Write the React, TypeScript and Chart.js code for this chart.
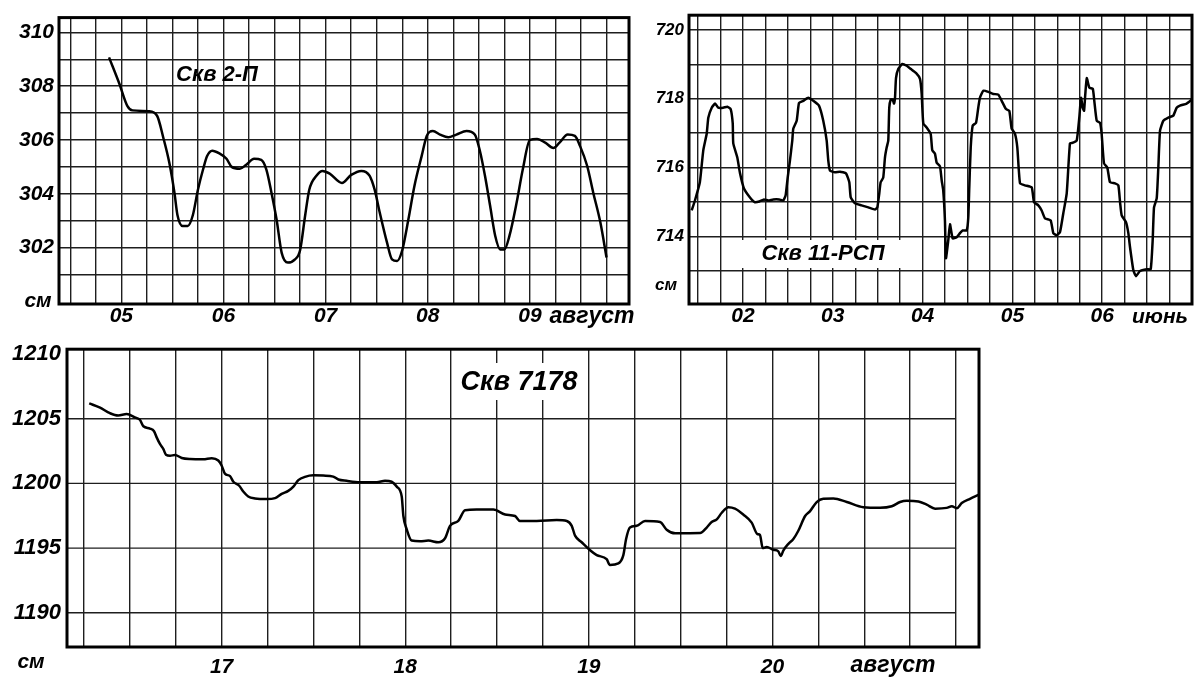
import React, { useEffect, useRef } from 'react';
import { Chart, registerables } from 'chart.js';

Chart.register(...registerables);

const FONT = '"Liberation Sans", Arial, Helvetica, sans-serif';

// ---------- Panel 1: Скв 2-П (август) ----------
const p1Days = [4.88, 4.98, 5.06, 5.11, 5.27, 5.35, 5.41, 5.47, 5.52, 5.55, 5.6, 5.65, 5.7, 5.75, 5.8, 5.84, 5.89, 5.96, 6.03, 6.08, 6.16, 6.22, 6.3, 6.37, 6.42, 6.47, 6.52, 6.57, 6.63, 6.7, 6.75, 6.8, 6.84, 6.91, 6.97, 7.04, 7.16, 7.25, 7.35, 7.43, 7.48, 7.53, 7.6, 7.65, 7.7, 7.75, 7.81, 7.87, 7.94, 7.99, 8.05, 8.12, 8.2, 8.28, 8.38, 8.46, 8.51, 8.56, 8.61, 8.66, 8.71, 8.75, 8.8, 8.87, 8.93, 9.0, 9.07, 9.15, 9.23, 9.29, 9.37, 9.44, 9.49, 9.56, 9.62, 9.69, 9.75];
const p1Level = [309.07, 308.1, 307.26, 307.1, 307.07, 306.9, 306.1, 305.15, 304.04, 303.2, 302.8, 302.8, 303.2, 304.15, 304.9, 305.4, 305.6, 305.5, 305.3, 305.0, 304.93, 305.07, 305.3, 305.26, 304.9, 304.04, 303.04, 301.8, 301.44, 301.56, 301.9, 303.2, 304.15, 304.67, 304.85, 304.75, 304.4, 304.7, 304.85, 304.67, 304.15, 303.3, 302.2, 301.56, 301.5, 301.9, 303.04, 304.3, 305.4, 306.15, 306.33, 306.2, 306.1, 306.2, 306.33, 306.2, 305.6, 304.67, 303.56, 302.44, 301.93, 301.93, 302.44, 303.67, 304.9, 306.0, 306.04, 305.9, 305.7, 305.9, 306.2, 306.15, 305.78, 305.04, 304.04, 302.93, 301.63];
const p1XGrid = [4.5, 4.75, 5, 5.25, 5.5, 5.75, 6, 6.25, 6.5, 6.75, 7, 7.25, 7.5, 7.75, 8, 8.25, 8.5, 8.75, 9, 9.25, 9.5, 9.75];
const p1DayTicks = [5, 6, 7, 8, 9];
const p1DayLabels = ['05', '06', '07', '08', '09'];
const p1YGrid = [301, 302, 303, 304, 305, 306, 307, 308, 309, 310];
const p1YLabelled = [302, 304, 306, 308, 310];

// ---------- Panel 2: Скв 11-РСП (июнь) ----------
const p2Days = [1.429, 1.465, 1.52, 1.558, 1.596, 1.614, 1.652, 1.69, 1.725, 1.78, 1.826, 1.863, 1.886, 1.892, 1.937, 1.967, 2.011, 2.078, 2.134, 2.182, 2.234, 2.282, 2.337, 2.404, 2.449, 2.475, 2.498, 2.523, 2.549, 2.56, 2.598, 2.624, 2.671, 2.727, 2.783, 2.846, 2.894, 2.932, 2.95, 2.969, 3.024, 3.08, 3.147, 3.184, 3.2, 3.247, 3.32, 3.396, 3.47, 3.496, 3.518, 3.533, 3.562, 3.581, 3.6, 3.618, 3.629, 3.645, 3.667, 3.682, 3.693, 3.704, 3.73, 3.774, 3.823, 3.867, 3.926, 3.971, 3.99, 4.008, 4.046, 4.09, 4.108, 4.138, 4.157, 4.194, 4.213, 4.23, 4.249, 4.26, 4.286, 4.305, 4.335, 4.38, 4.416, 4.447, 4.491, 4.509, 4.52, 4.536, 4.558, 4.595, 4.62, 4.639, 4.676, 4.732, 4.787, 4.843, 4.881, 4.929, 4.966, 4.992, 5.029, 5.055, 5.085, 5.14, 5.215, 5.241, 5.289, 5.326, 5.363, 5.426, 5.456, 5.493, 5.53, 5.567, 5.605, 5.641, 5.671, 5.716, 5.745, 5.764, 5.783, 5.798, 5.812, 5.828, 5.857, 5.895, 5.912, 5.939, 5.976, 5.994, 6.02, 6.057, 6.087, 6.143, 6.18, 6.2, 6.217, 6.265, 6.291, 6.31, 6.347, 6.376, 6.421, 6.496, 6.54, 6.562, 6.577, 6.607, 6.625, 6.644, 6.681, 6.736, 6.792, 6.829, 6.866, 6.941, 6.997];
const p2Level = [714.75, 715.04, 715.57, 716.5, 716.98, 717.45, 717.74, 717.86, 717.74, 717.74, 717.77, 717.7, 717.28, 716.7, 716.29, 715.83, 715.39, 715.13, 714.99, 715.01, 715.07, 715.04, 715.07, 715.07, 715.04, 715.19, 715.71, 716.2, 716.78, 717.13, 717.36, 717.88, 717.94, 718.03, 717.94, 717.8, 717.36, 716.78, 716.2, 715.91, 715.86, 715.88, 715.83, 715.57, 715.13, 714.96, 714.9, 714.84, 714.78, 714.84, 715.25, 715.57, 715.71, 716.29, 716.58, 716.78, 717.74, 717.97, 717.97, 717.86, 718.03, 718.6, 718.87, 719.01, 718.96, 718.87, 718.75, 718.58, 718.14, 717.28, 717.16, 716.98, 716.5, 716.4, 716.14, 716.03, 715.62, 715.33, 714.46, 713.36, 713.88, 714.35, 713.94, 713.97, 714.09, 714.17, 714.17, 714.55, 715.42, 716.58, 717.22, 717.3, 717.74, 718.03, 718.23, 718.2, 718.14, 718.12, 717.94, 717.7, 717.65, 717.13, 716.98, 716.58, 715.54, 715.48, 715.42, 714.99, 714.9, 714.75, 714.52, 714.46, 714.09, 714.03, 714.12, 714.67, 715.25, 716.7, 716.72, 716.78, 717.45, 718.03, 717.74, 717.65, 718.14, 718.6, 718.32, 718.29, 717.94, 717.36, 717.3, 716.98, 716.12, 716.0, 715.57, 715.54, 715.48, 714.96, 714.61, 714.41, 714.09, 713.68, 713.01, 712.84, 712.99, 713.04, 713.04, 713.88, 714.84, 715.1, 716.0, 717.07, 717.36, 717.45, 717.51, 717.74, 717.8, 717.86, 717.97];
const p2XGrid = [1.5, 1.75, 2, 2.25, 2.5, 2.75, 3, 3.25, 3.5, 3.75, 4, 4.25, 4.5, 4.75, 5, 5.25, 5.5, 5.75, 6, 6.25, 6.5, 6.75];
const p2DayTicks = [2, 3, 4, 5, 6];
const p2DayLabels = ['02', '03', '04', '05', '06'];
const p2YGrid = [713, 714, 715, 716, 717, 718, 719, 720];
const p2YLabelled = [714, 716, 718, 720];

// ---------- Panel 3: Скв 7178 (август) ----------
const p3Days = [16.279, 16.338, 16.392, 16.437, 16.483, 16.528, 16.555, 16.574, 16.61, 16.632, 16.647, 16.665, 16.683, 16.697, 16.719, 16.746, 16.783, 16.828, 16.9, 16.946, 16.982, 17.0, 17.018, 17.046, 17.064, 17.096, 17.118, 17.145, 17.182, 17.246, 17.291, 17.327, 17.363, 17.391, 17.418, 17.454, 17.5, 17.554, 17.608, 17.636, 17.681, 17.754, 17.845, 17.89, 17.926, 17.954, 17.981, 17.99, 18.008, 18.035, 18.081, 18.126, 18.18, 18.217, 18.244, 18.289, 18.326, 18.389, 18.48, 18.544, 18.598, 18.625, 18.716, 18.825, 18.88, 18.907, 18.925, 18.961, 19.007, 19.043, 19.097, 19.115, 19.161, 19.188, 19.203, 19.224, 19.261, 19.306, 19.388, 19.424, 19.47, 19.606, 19.642, 19.669, 19.697, 19.724, 19.76, 19.796, 19.841, 19.887, 19.918, 19.932, 19.947, 19.969, 20.005, 20.032, 20.045, 20.06, 20.087, 20.114, 20.141, 20.178, 20.205, 20.241, 20.277, 20.332, 20.405, 20.495, 20.586, 20.65, 20.695, 20.731, 20.795, 20.84, 20.886, 20.949, 20.977, 21.004, 21.031, 21.076, 21.122];
const p3Level = [1206.19, 1205.86, 1205.43, 1205.25, 1205.36, 1205.1, 1204.92, 1204.42, 1204.24, 1204.04, 1203.54, 1203.03, 1202.65, 1202.22, 1202.14, 1202.2, 1201.97, 1201.89, 1201.87, 1201.95, 1201.77, 1201.39, 1200.76, 1200.56, 1200.13, 1199.82, 1199.37, 1198.99, 1198.84, 1198.79, 1198.86, 1199.19, 1199.42, 1199.75, 1200.25, 1200.51, 1200.63, 1200.61, 1200.53, 1200.3, 1200.2, 1200.1, 1200.1, 1200.2, 1200.13, 1199.75, 1198.99, 1197.48, 1196.46, 1195.58, 1195.53, 1195.58, 1195.45, 1195.76, 1196.72, 1197.1, 1197.93, 1197.98, 1197.98, 1197.6, 1197.48, 1197.1, 1197.1, 1197.17, 1197.1, 1196.72, 1195.96, 1195.45, 1194.83, 1194.45, 1194.14, 1193.69, 1193.81, 1194.45, 1195.7, 1196.59, 1196.72, 1197.1, 1197.02, 1196.42, 1196.14, 1196.16, 1196.59, 1197.02, 1197.22, 1197.73, 1198.16, 1198.05, 1197.6, 1196.97, 1196.08, 1196.01, 1195.0, 1195.08, 1194.87, 1194.75, 1194.39, 1194.83, 1195.33, 1195.7, 1196.34, 1197.48, 1197.86, 1198.56, 1198.81, 1198.84, 1198.56, 1198.16, 1198.11, 1198.23, 1198.56, 1198.66, 1198.61, 1198.36, 1198.05, 1198.11, 1198.23, 1198.08, 1198.48, 1198.81, 1199.11];
const p3XGrid = [16.25, 16.5, 16.75, 17, 17.25, 17.5, 17.75, 18, 18.25, 18.5, 18.75, 19, 19.25, 19.5, 19.75, 20, 20.25, 20.5, 20.75, 21];
const p3DayTicks = [17, 18, 19, 20];
const p3DayLabels = ['17', '18', '19', '20'];
const p3YGrid = [1190, 1195, 1200, 1205, 1210];
const p3YLabelled = [1190, 1195, 1200, 1205, 1210];
const p3HLines = [1190, 1195, 1200, 1205];

type TextItem = { text: string; x: number; y: number; size: number; box?: [number, number, number, number] };

const decorPlugin = {
  id: 'decor',
  beforeDatasetsDraw(chart: any, _args: any, opts: any) {
    const ctx = chart.ctx as CanvasRenderingContext2D;
    const area = chart.chartArea;
    if (opts.hGrid) {
      const ys = chart.scales.y;
      const xs = chart.scales.x;
      const right = xs.getPixelForValue(opts.hGrid.toX);
      ctx.save();
      ctx.strokeStyle = opts.hGrid.color;
      ctx.lineWidth = opts.hGrid.width;
      opts.hGrid.values.forEach((v: number) => {
        const py = ys.getPixelForValue(v);
        ctx.beginPath();
        ctx.moveTo(area.left, py);
        ctx.lineTo(right, py);
        ctx.stroke();
      });
      ctx.restore();
    }
    (opts.texts || []).forEach((t: TextItem) => {
      ctx.save();
      if (t.box) {
        ctx.fillStyle = '#ffffff';
        ctx.fillRect(t.box[0], t.box[1], t.box[2], t.box[3]);
      }
      ctx.font = `italic bold ${t.size}px ${FONT}`;
      ctx.fillStyle = '#000000';
      ctx.textAlign = 'center';
      ctx.textBaseline = 'middle';
      ctx.fillText(t.text, t.x, t.y);
      ctx.restore();
    });
  },
  afterDraw(chart: any, _args: any, opts: any) {
    const ctx = chart.ctx as CanvasRenderingContext2D;
    const { left, top, right, bottom } = chart.chartArea;
    ctx.save();
    ctx.strokeStyle = '#000000';
    ctx.lineWidth = opts.frameWidth || 3;
    ctx.strokeRect(left, top, right - left, bottom - top);
    ctx.restore();
  },
};

type PanelSpec = {
  days: number[];
  levels: number[];
  xMin: number; xMax: number;
  xGrid: number[]; dayTicks: number[]; dayLabels: string[];
  yMin: number; yMax: number;
  yGrid: number[]; yLabelled: number[];
  padding: { left: number; top: number; right: number; bottom: number };
  yWidth: number; xHeight: number;
  yFont: number; xFont: number; yPad: number; xPad: number;
  tension: number; monotone: boolean;
  yGridVisible: boolean;
  hGrid?: { values: number[]; toX: number; color: string; width: number };
  texts: TextItem[];
};

function makeConfig(s: PanelSpec): any {
  const gridColor = '#1e1e1e';
  return {
    type: 'line',
    data: {
      datasets: [
        {
          data: s.days.map((d, i) => ({ x: d, y: s.levels[i] })),
          borderColor: '#000000',
          borderWidth: 2.5,
          pointRadius: 0,
          fill: false,
          tension: s.tension,
          cubicInterpolationMode: s.monotone ? 'monotone' : 'default',
        },
      ],
    },
    options: {
      responsive: false,
      animation: false,
      events: [],
      layout: { padding: s.padding },
      plugins: {
        legend: { display: false },
        tooltip: { enabled: false },
        title: { display: false },
        decor: { texts: s.texts, hGrid: s.hGrid, frameWidth: 3 },
      },
      scales: {
        x: {
          type: 'linear',
          min: s.xMin,
          max: s.xMax,
          afterBuildTicks: (scale: any) => {
            scale.ticks = s.xGrid.map((v) => ({ value: v }));
          },
          afterFit: (scale: any) => {
            scale.height = s.xHeight;
          },
          grid: { display: true, drawTicks: false, color: gridColor, lineWidth: 1.4 },
          border: { display: false },
          ticks: {
            autoSkip: false,
            maxRotation: 0,
            padding: s.xPad,
            color: '#000000',
            font: { family: FONT, size: s.xFont, weight: 'bold', style: 'italic' },
            callback: (v: number) => {
              const idx = s.dayTicks.findIndex((d) => Math.abs(d - v) < 1e-6);
              return idx >= 0 ? s.dayLabels[idx] : '';
            },
          },
        },
        y: {
          type: 'linear',
          min: s.yMin,
          max: s.yMax,
          afterBuildTicks: (scale: any) => {
            scale.ticks = s.yGrid.map((v) => ({ value: v }));
          },
          afterFit: (scale: any) => {
            scale.width = s.yWidth;
          },
          grid: { display: s.yGridVisible, drawTicks: false, color: gridColor, lineWidth: 1.4 },
          border: { display: false },
          ticks: {
            autoSkip: false,
            padding: s.yPad,
            color: '#000000',
            font: { family: FONT, size: s.yFont, weight: 'bold', style: 'italic' },
            callback: (v: number) => (s.yLabelled.some((l) => Math.abs(l - v) < 1e-6) ? String(v) : ''),
          },
        },
      },
    },
    plugins: [decorPlugin],
  };
}

function Panel(props: { left: number; top: number; width: number; height: number; spec: PanelSpec }) {
  const ref = useRef<HTMLCanvasElement>(null);
  useEffect(() => {
    if (!ref.current) return;
    const chart = new Chart(ref.current, makeConfig(props.spec));
    return () => chart.destroy();
  }, []);
  return (
    <canvas
      ref={ref}
      width={props.width}
      height={props.height}
      style={{ position: 'absolute', left: props.left, top: props.top, width: props.width, height: props.height }}
    />
  );
}

const spec1: PanelSpec = {
  days: p1Days, levels: p1Level,
  xMin: 4.39, xMax: 9.97, xGrid: p1XGrid, dayTicks: p1DayTicks, dayLabels: p1DayLabels,
  yMin: 299.9, yMax: 310.55, yGrid: p1YGrid, yLabelled: p1YLabelled,
  padding: { left: 0, top: 14, right: 11, bottom: 0 },
  yWidth: 59, xHeight: 26, yFont: 21, xFont: 21, yPad: 5, xPad: 0,
  tension: 0.4, monotone: true, yGridVisible: true,
  texts: [
    { text: 'Скв 2-П', x: 217, y: 75, size: 22 },
    { text: 'см', x: 38, y: 301, size: 21 },
    { text: 'август', x: 592, y: 317, size: 23 },
  ],
};

const spec2: PanelSpec = {
  days: p2Days, levels: p2Level,
  xMin: 1.399, xMax: 7.0, xGrid: p2XGrid, dayTicks: p2DayTicks, dayLabels: p2DayLabels,
  yMin: 712.03, yMax: 720.43, yGrid: p2YGrid, yLabelled: p2YLabelled,
  padding: { left: 0, top: 14, right: 2, bottom: 0 },
  yWidth: 49, xHeight: 26, yFont: 17, xFont: 21, yPad: 5, xPad: 0,
  tension: 0.15, monotone: false, yGridVisible: true,
  texts: [
    { text: 'Скв 11-РСП', x: 183, y: 254, size: 22, box: [100, 240, 167, 28] },
    { text: 'см', x: 26, y: 285, size: 17 },
    { text: 'июнь', x: 520, y: 317, size: 21 },
  ],
};

const spec3: PanelSpec = {
  days: p3Days, levels: p3Level,
  xMin: 16.158, xMax: 21.125, xGrid: p3XGrid, dayTicks: p3DayTicks, dayLabels: p3DayLabels,
  yMin: 1187.35, yMax: 1210.38, yGrid: p3YGrid, yLabelled: p3YLabelled,
  padding: { left: 0, top: 13, right: 21, bottom: 0 },
  yWidth: 67, xHeight: 30, yFont: 22, xFont: 21, yPad: 6, xPad: 8,
  tension: 0.4, monotone: true, yGridVisible: false,
  hGrid: { values: p3HLines, toX: 21, color: '#1e1e1e', width: 1.4 },
  texts: [
    { text: 'Скв 7178', x: 519, y: 53, size: 27, box: [453, 33, 134, 37] },
    { text: 'см', x: 31, y: 332, size: 21 },
    { text: 'август', x: 893, y: 336, size: 23 },
  ],
};

export default function App() {
  return (
    <div style={{ position: 'absolute', left: 0, top: 0, width: 1194, height: 677, background: '#ffffff', overflow: 'hidden' }}>
      <Panel left={0} top={0} width={640} height={330} spec={spec1} />
      <Panel left={640} top={0} width={554} height={330} spec={spec2} />
      <Panel left={0} top={330} width={1000} height={347} spec={spec3} />
    </div>
  );
}
